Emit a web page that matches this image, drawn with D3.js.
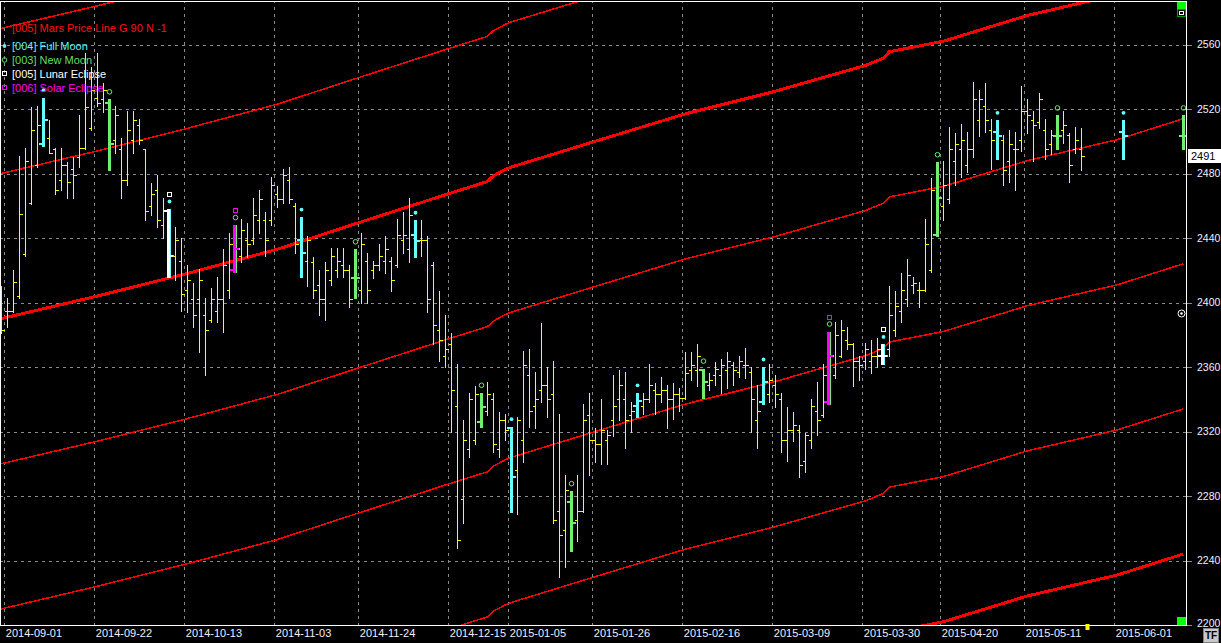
<!DOCTYPE html>
<html>
<head>
<meta charset="utf-8">
<script src="https://cdn.jsdelivr.net/npm/d3@7"></script>
<style>
html, body { margin: 0; padding: 0; background: #000; }
svg { display: block; }
text { font-family: "Liberation Sans", Arial, sans-serif; }
</style>
</head>
<body>
<svg id="chart" width="1221" height="643"></svg>
<script>
// daily OHLC, one value per trading day (index 0 = 2014-08-29)
var open = [2402,2395,2395,2404,2430,2462,2485,2498,2502,2495,2476,2485,2483,2490,2496,2508,2527,2526,2524,2501,
  2495,2476,2501,2510,2495,2460,2470,2448,2457,2429,2426,2408,2402,2402,2392,2389,2395,2402,2408,2420,
  2429,2439,2439,2451,2451,2451,2467,2464,2476,2460,2439,2426,2425,2411,2402,2414,2420,2423,2420,2415,
  2408,2426,2420,2423,2426,2426,2423,2439,2433,2442,2439,2439,2423,2383,2367,2374,2336,2278,2309,2315,
  2326,2333,2340,2309,2327,2322,2296,2315,2355,2336,2346,2349,2343,2271,2259,2276,2265,2271,2330,2315,
  2312,2315,2327,2340,2340,2330,2336,2336,2340,2346,2343,2346,2340,2343,2341,2358,2358,2358,2349,2355,
  2355,2358,2361,2357,2361,2357,2327,2338,2343,2349,2340,2315,2321,2321,2302,2315,2333,2330,2338,2355,
  2367,2377,2374,2364,2364,2364,2367,2367,2371,2383,2395,2402,2411,2408,2408,2420,2442,2460,2464,2488,
  2495,2485,2495,2513,2522,2507,2506,2501,2488,2495,2501,2519,2513,2512,2507,2498,2503,2507,2504,2495,2495];
var high = [2410,2403,2420,2491,2496,2521,2522,2527,2513,2496,2496,2487,2490,2516,2555,2546,2555,2536,2526,2522,
  2502,2519,2519,2514,2495,2474,2479,2465,2458,2447,2440,2423,2412,2421,2403,2409,2416,2433,2443,2448,
  2452,2449,2465,2470,2456,2478,2472,2483,2484,2462,2453,2441,2428,2420,2425,2434,2434,2434,2423,2433,
  2443,2431,2426,2436,2441,2428,2452,2456,2465,2451,2451,2441,2425,2407,2392,2381,2362,2327,2344,2348,
  2344,2351,2344,2332,2331,2323,2329,2370,2371,2357,2387,2360,2364,2331,2293,2283,2293,2337,2344,2322,
  2340,2321,2355,2358,2357,2338,2344,2344,2362,2350,2354,2349,2350,2347,2369,2369,2374,2359,2356,2363,
  2365,2369,2363,2367,2372,2360,2349,2360,2362,2355,2344,2335,2332,2324,2319,2340,2351,2362,2382,2388,
  2389,2385,2375,2367,2375,2377,2378,2374,2410,2407,2418,2427,2416,2413,2452,2477,2487,2488,2509,2505,
  2511,2506,2537,2532,2536,2514,2513,2504,2507,2506,2534,2526,2519,2530,2514,2507,2516,2519,2505,2509,2508];
var low = [2381,2385,2394,2403,2429,2461,2484,2497,2493,2467,2470,2465,2465,2484,2495,2507,2522,2518,2482,2493,
  2465,2473,2493,2498,2451,2454,2447,2440,2416,2414,2395,2394,2385,2369,2355,2388,2388,2382,2403,2419,
  2425,2428,2436,2443,2429,2448,2459,2462,2462,2431,2416,2410,2403,2392,2389,2411,2416,2416,2397,2403,
  2400,2400,2415,2420,2418,2407,2422,2431,2425,2428,2429,2394,2374,2364,2360,2320,2248,2263,2304,2312,
  2323,2330,2307,2304,2315,2270,2269,2301,2323,2322,2338,2329,2263,2230,2236,2246,2252,2270,2293,2301,
  2300,2300,2317,2327,2310,2320,2329,2331,2338,2331,2338,2322,2328,2333,2340,2352,2348,2341,2346,2349,
  2344,2347,2349,2354,2353,2320,2310,2337,2338,2335,2307,2302,2314,2292,2295,2310,2318,2329,2337,2353,
  2366,2371,2348,2352,2359,2356,2360,2362,2367,2379,2388,2398,2406,2397,2407,2419,2441,2451,2462,2473,
  2478,2481,2490,2503,2506,2483,2489,2473,2475,2470,2494,2505,2488,2508,2489,2492,2495,2499,2475,2493,2482];
var close = [2383,2395,2413,2455,2488,2507,2510,2513,2493,2470,2485,2475,2479,2496,2521,2532,2524,2532,2498,2516,
  2476,2507,2513,2501,2457,2467,2451,2457,2429,2439,2405,2414,2392,2414,2383,2402,2402,2423,2436,2433,
  2445,2436,2454,2464,2439,2473,2464,2479,2464,2436,2431,2439,2408,2402,2420,2429,2426,2420,2402,2415,
  2436,2408,2423,2429,2433,2414,2442,2442,2454,2438,2439,2402,2386,2377,2371,2346,2253,2315,2340,2343,
  2335,2343,2312,2327,2321,2292,2327,2361,2333,2340,2349,2340,2265,2256,2284,2263,2271,2327,2315,2312,
  2321,2318,2336,2349,2327,2333,2339,2340,2349,2343,2346,2340,2343,2341,2356,2361,2367,2351,2352,2359,
  2361,2364,2358,2364,2361,2340,2333,2351,2352,2343,2315,2321,2324,2299,2318,2336,2327,2355,2367,2380,
  2383,2374,2364,2361,2371,2367,2371,2367,2392,2398,2408,2417,2412,2408,2436,2470,2465,2473,2495,2498,
  2501,2495,2526,2526,2513,2501,2503,2482,2498,2495,2519,2516,2510,2526,2495,2504,2503,2510,2485,2501,2491];

// projected moon bars beyond the last trading day
var projIdx = [187, 197];
var projOpen = [2506, 2503];
var projHigh = [2513, 2516];
var projLow = [2489, 2495];
var projClose = [2503, 2503];

// moon / eclipse days (bar index)
var fullMoonIdx = [7, 28, 50, 69, 85, 106, 127, 147, 166, 187];
var newMoonIdx = [18, 39, 59, 80, 95, 117, 138, 156, 176, 197];
var lunarEclipseIdx = [28, 147];
var solarEclipseIdx = [39, 138];

// Mars price line (base harmonic), sampled at bar index
var marsIdx = [0, 16, 31, 46, 60, 75, 81, 82, 83, 84, 85, 99, 114, 129, 144, 147, 148, 157, 171, 186, 197];
var marsVal = [2390, 2404, 2418, 2433, 2450, 2468, 2475, 2478.5, 2480.5, 2482.5, 2484, 2500, 2517, 2531, 2547, 2551.5, 2555.5, 2562, 2578, 2591, 2604];
var marsOffsets = [180, 90, 0, -90, -180, -270, -360];

var tickIdx = [1, 16, 31, 46, 60, 75, 85, 99, 114, 129, 144, 157, 171, 186];
var tickLabels = ["2014-09-01","2014-09-22","2014-10-13","2014-11-03","2014-11-24","2014-12-15","2015-01-05",
  "2015-01-26","2015-02-16","2015-03-09","2015-03-30","2015-04-20","2015-05-11","2015-06-01"];
var yTicks = [2200, 2240, 2280, 2320, 2360, 2400, 2440, 2480, 2520, 2560];
var lastPrice = 2491;

var W = 1221, H = 643, plotR = 1186, plotB = 625, nSlots = 198;

var x = d3.scaleLinear().domain([-0.5, nSlots - 0.5]).range([-1.7, 1186.3]);
var y = d3.scaleLinear().domain([2200, 2560]).range([625, 44.5]);

function px(i) { return Math.round(x(i)) + 0.5; }
function py(v) { return Math.round(y(v)) + 0.5; }

var svg = d3.select("#chart");
svg.append("rect").attr("width", W).attr("height", H).attr("fill", "#000");

svg.append("defs").append("clipPath").attr("id", "plot")
  .append("rect").attr("x", 0).attr("y", 1).attr("width", plotR).attr("height", plotB - 1);

var plot = svg.append("g").attr("clip-path", "url(#plot)");

// grid
plot.selectAll(".hgrid").data(yTicks.filter(function(d) { return d > 2200; }))
  .enter().append("line")
  .attr("x1", 0).attr("x2", plotR)
  .attr("y1", py).attr("y2", py)
  .attr("stroke", "#8a8a8a").attr("stroke-dasharray", "3,4")
  .attr("shape-rendering", "crispEdges");

plot.selectAll(".vgrid").data(tickIdx)
  .enter().append("line")
  .attr("x1", function(d) { return px(d - 0.5); })
  .attr("x2", function(d) { return px(d - 0.5); })
  .attr("y1", 0).attr("y2", plotB)
  .attr("stroke", "#8a8a8a").attr("stroke-dasharray", "3,4")
  .attr("shape-rendering", "crispEdges");

// Mars price lines
var marsPts = marsIdx.map(function(d, k) { return [d, marsVal[k]]; });
plot.selectAll(".mars").data(marsOffsets)
  .enter().append("path")
  .attr("d", function(off) {
    return d3.line().x(function(d) { return x(d[0]); }).y(function(d) { return y(d[1] + off); })(marsPts);
  })
  .attr("fill", "none").attr("stroke", "#ff0000")
  .attr("stroke-width", function(off) { return off % 360 === 0 ? 3 : 1.5; })
  .attr("shape-rendering", "crispEdges");

// bars
var ohlc = open.map(function(o, i) { return {i: i, o: o, h: high[i], l: low[i], c: close[i]}; });
projIdx.forEach(function(d, k) {
  ohlc.push({i: d, o: projOpen[k], h: projHigh[k], l: projLow[k], c: projClose[k]});
});

var moonType = {};
fullMoonIdx.forEach(function(i) { moonType[i] = "full"; });
newMoonIdx.forEach(function(i) { moonType[i] = "new"; });
var eclipseType = {};
lunarEclipseIdx.forEach(function(i) { eclipseType[i] = "lunar"; });
solarEclipseIdx.forEach(function(i) { eclipseType[i] = "solar"; });

plot.selectAll(".bar").data(ohlc.filter(function(d) { return !moonType[d.i]; }))
  .enter().append("path")
  .attr("d", function(d) {
    var cx = px(d.i);
    return "M" + cx + "," + Math.round(y(d.h)) + "V" + (Math.round(y(d.l)) + 1) +
      "M" + (cx - 3) + "," + py(d.o) + "H" + cx +
      "M" + cx + "," + py(d.c) + "H" + (cx + 3);
  })
  .attr("fill", "none").attr("stroke", "#ffff00").attr("stroke-width", 1)
  .attr("shape-rendering", "crispEdges");

var moonColor = {full: "#66ffff", "new": "#70ee70"};
var eclColor = {lunar: "#ffffff", solar: "#ff00ff"};

function drawThickBar(g, d, color, shift) {
  var cx = Math.round(x(d.i)) + shift;
  var yh = Math.round(y(d.h)), yl = Math.round(y(d.l));
  g.append("rect").attr("x", cx - 1).attr("y", yh).attr("width", 3).attr("height", yl - yh + 1).attr("fill", color);
  g.append("rect").attr("x", cx - 4).attr("y", Math.round(y(d.o)) - 1).attr("width", 4).attr("height", 2).attr("fill", color);
  g.append("rect").attr("x", cx + 1).attr("y", Math.round(y(d.c)) - 1).attr("width", 4).attr("height", 2).attr("fill", color);
}

var moonG = plot.append("g").attr("shape-rendering", "crispEdges");
var markG = plot.append("g");
ohlc.filter(function(d) { return moonType[d.i]; }).forEach(function(d) {
  var t = moonType[d.i], e = eclipseType[d.i];
  drawThickBar(moonG, d, moonColor[t], 0);
  if (e) drawThickBar(moonG, d, eclColor[e], -1);
  var mx = Math.round(x(d.i)) + 0.5, my = y(d.h) - 7.5;
  if (t === "full") {
    markG.append("circle").attr("cx", mx).attr("cy", my).attr("r", 1.9).attr("fill", moonColor.full);
  } else {
    markG.append("circle").attr("cx", mx).attr("cy", my).attr("r", 2.3)
      .attr("fill", "none").attr("stroke", moonColor["new"]).attr("stroke-width", 1);
  }
  if (e) {
    markG.append("rect").attr("x", Math.round(mx) - 2.5).attr("y", Math.round(y(d.h) - 17) + 0.5)
      .attr("width", 4).attr("height", 4)
      .attr("fill", "none").attr("stroke", eclColor[e]).attr("stroke-width", 1);
  }
});

// legend
var legend = [
  {t: "[005] Mars Price Line G 90 N -1", c: "#ff1010", y: 28, s: "none"},
  {t: "[004] Full Moon", c: "#66eeee", y: 46, s: "dot"},
  {t: "[003] New Moon", c: "#66dd66", y: 60, s: "circle"},
  {t: "[005] Lunar Eclipse", c: "#ffffff", y: 74, s: "square"},
  {t: "[006] Solar Eclipse", c: "#ff00ff", y: 88, s: "square"}
];
var lg = svg.append("g");
lg.selectAll("text").data(legend).enter().append("text")
  .attr("x", 12).attr("y", function(d) { return d.y + 4; })
  .attr("font-size", "11px").attr("fill", function(d) { return d.c; })
  .text(function(d) { return d.t; });
legend.forEach(function(d) {
  if (d.s === "dot") lg.append("circle").attr("cx", 4.5).attr("cy", d.y).attr("r", 1.9).attr("fill", d.c);
  if (d.s === "circle") lg.append("circle").attr("cx", 4.5).attr("cy", d.y).attr("r", 2.3)
    .attr("fill", "none").attr("stroke", d.c);
  if (d.s === "square") lg.append("rect").attr("x", 2.5).attr("y", d.y - 2.5).attr("width", 4).attr("height", 4)
    .attr("fill", "none").attr("stroke", d.c);
});

// frame
var frame = svg.append("g").attr("stroke", "#ffffff").attr("stroke-width", 1).attr("shape-rendering", "crispEdges");
frame.append("line").attr("x1", 0).attr("x2", plotR + 1).attr("y1", 1.5).attr("y2", 1.5);
frame.append("line").attr("x1", plotR + 0.5).attr("x2", plotR + 0.5).attr("y1", 1).attr("y2", plotB + 1);
frame.append("line").attr("x1", 0).attr("x2", plotR + 1).attr("y1", plotB + 0.5).attr("y2", plotB + 0.5);
frame.append("line").attr("x1", 0.5).attr("x2", 0.5).attr("y1", 1).attr("y2", plotB + 1);

// y axis on the right
var yAxis = svg.append("g").attr("transform", "translate(" + (plotR + 1) + ",0)")
  .call(d3.axisRight(y).tickValues(yTicks).tickSize(5).tickPadding(5).tickFormat(d3.format("d")));
yAxis.select(".domain").remove();
yAxis.selectAll(".tick line").attr("stroke", "#8a8a8a").attr("shape-rendering", "crispEdges");
yAxis.selectAll(".tick text").attr("fill", "#eef0ff").attr("font-size", "10.5px")
  .attr("font-family", "Liberation Sans, Arial, sans-serif");
yAxis.selectAll(".tick").filter(function(d) { return d === 2200; }).select("text").attr("dy", "0.1em");

// x axis
var xAxis = svg.append("g").attr("transform", "translate(0," + plotB + ")")
  .call(d3.axisBottom(x)
    .tickValues(tickIdx.map(function(d) { return d - 0.5; }))
    .tickFormat(function(d, k) { return tickLabels[k]; })
    .tickSize(0).tickPadding(4));
xAxis.select(".domain").remove();
xAxis.selectAll(".tick text").attr("text-anchor", "start").attr("x", 1)
  .attr("fill", "#eef0ff").attr("font-size", "11px")
  .attr("font-family", "Liberation Sans, Arial, sans-serif");

// last price tag
var ly = Math.round(y(lastPrice));
svg.append("rect").attr("x", 1188).attr("y", ly - 7).attr("width", 33).attr("height", 14).attr("fill", "#ffffff");
svg.append("text").attr("x", 1191).attr("y", ly + 4).attr("font-size", "11px").attr("fill", "#000")
  .text(lastPrice);

// small widgets
svg.append("rect").attr("x", 1177).attr("y", 2).attr("width", 9).attr("height", 7).attr("fill", "#00ff00");
svg.append("rect").attr("x", 1177.5).attr("y", 9.5).attr("width", 8).attr("height", 7)
  .attr("fill", "#000").attr("stroke", "#00a000");
svg.append("rect").attr("x", 1179.5).attr("y", 11.5).attr("width", 4).attr("height", 3)
  .attr("fill", "none").attr("stroke", "#ffffff");
svg.append("rect").attr("x", 1177).attr("y", 617).attr("width", 9).attr("height", 8).attr("fill", "#00ff00");
svg.append("circle").attr("cx", 1181.5).attr("cy", 313.5).attr("r", 3.5)
  .attr("fill", "#000").attr("stroke", "#ffffff");
svg.append("circle").attr("cx", 1181.5).attr("cy", 313.5).attr("r", 1.3).attr("fill", "#ffffff");
svg.append("rect").attr("x", px(181) - 2).attr("y", 624).attr("width", 4).attr("height", 6).attr("fill", "#ffff00");
svg.append("rect").attr("x", 1203.5).attr("y", 628.5).attr("width", 15).attr("height", 14)
  .attr("fill", "#c8c8c8").attr("stroke", "#808080");
svg.append("text").attr("x", 1211).attr("y", 639).attr("text-anchor", "middle")
  .attr("font-size", "10px").attr("font-weight", "bold").attr("fill", "#000").text("TF");
</script>
</body>
</html>
